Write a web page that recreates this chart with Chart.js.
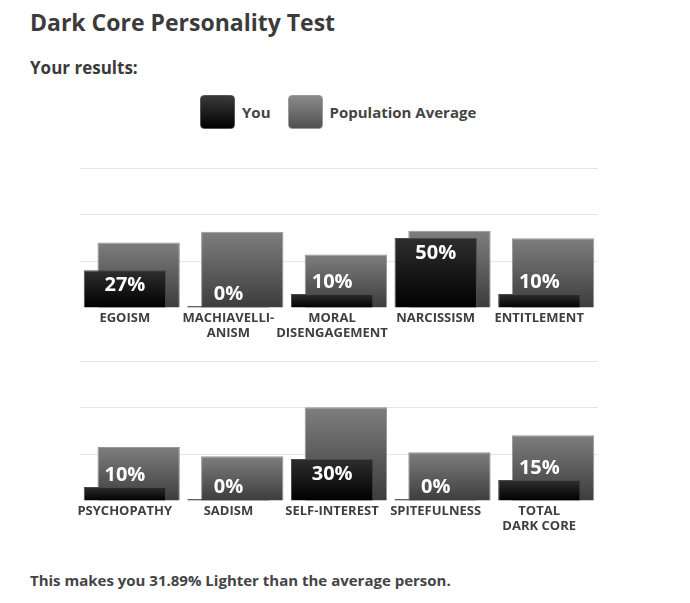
<!doctype html>
<html>

<head>
  <title>Dark Core Personality Test</title>
  <script src="https://cdn.jsdelivr.net/npm/chart.js@4.4.1/dist/chart.umd.min.js"></script>
</head>
<style>
  body {
    margin: 0;
    width: 690px;
    height: 603px;
    position: relative;
    overflow: hidden;
    background: #fff;
    font-family: "Open Sans", sans-serif;
    font-weight: 700;
    color: #3b3b3b;
  }

  .txt {
    position: absolute;
    left: 30px;
    margin: 0;
    line-height: 1;
    white-space: nowrap;
  }

  .legend {
    position: absolute;
    left: 200px;
    top: 95px;
    height: 34px;
    display: flex;
    align-items: center;
    font-size: 15px;
    line-height: 1;
    color: #444;
  }

  .box {
    width: 35px;
    height: 34px;
    border-radius: 4px;
    box-sizing: border-box;
  }

  .chartBox {
    position: absolute;
    left: 0;
  }
</style>

<body>
  <div class="txt" style="top:11px;font-size:23px">Dark Core Personality Test</div>
  <div class="txt" style="top:59px;font-size:17px">Your results:</div>
  <div class="legend">
    <div class="box" style="background:linear-gradient(#3a3a3a,#000);border:1px solid #555"></div>
    <span style="margin:0 17px 0 7px">You</span>
    <div class="box" style="background:linear-gradient(#8a8a8a,#505050);border:1px solid #9a9a9a"></div>
    <span style="margin-left:7px">Population Average</span>
  </div>
  <div class="chartBox" style="top:150px"><canvas id="chartTop" width="690" height="200"></canvas></div>
  <div class="chartBox" style="top:350px"><canvas id="chartBottom" width="690" height="190"></canvas></div>
  <div class="txt" style="top:573px;font-size:15px;color:#444">This makes you 31.89% Lighter than the average person.</div>

  <script>
    // values (percent)
    var categoriesTop = ['EGOISM', ['MACHIAVELLI-', 'ANISM'], ['MORAL', 'DISENGAGEMENT'], 'NARCISSISM', 'ENTITLEMENT'];
    var youTop = [27, 0, 10, 50, 10];
    var averageTop = [46.7, 54.5, 38.3, 55.2, 49.8];

    var categoriesBottom = ['PSYCHOPATHY', 'SADISM', 'SELF-INTEREST', 'SPITEFULNESS', ['TOTAL', 'DARK CORE']];
    var youBottom = [10, 0, 30, 0, 15];
    var averageBottom = [38.6, 31.9, 67, 34.8, 47];

    var gridValues = [0, 100 / 3, 200 / 3, 100];

    function barFill(topColor, bottomColor) {
      return function (c) {
        var chart = c.chart;
        if (!chart.chartArea || c.type !== 'data') return bottomColor;
        var y = chart.scales.y;
        var y0 = y.getPixelForValue(c.raw);
        var y1 = y.getPixelForValue(0);
        var g = chart.ctx.createLinearGradient(0, y0, 0, Math.max(y1, y0 + 2));
        g.addColorStop(0, topColor);
        g.addColorStop(1, bottomColor);
        return g;
      };
    }

    // white percentage on top of the "You" bars
    var valueLabels = {
      id: 'valueLabels',
      afterDatasetsDraw: function (chart) {
        var ctx = chart.ctx;
        var meta = chart.getDatasetMeta(0);
        var values = chart.data.datasets[0].data;
        ctx.save();
        ctx.font = 'bold 20px "Open Sans"';
        ctx.fillStyle = '#fff';
        ctx.textAlign = 'center';
        ctx.textBaseline = 'middle';
        meta.data.forEach(function (bar, i) {
          var h = bar.base - bar.y;
          var ty = h > 30 ? bar.y + 15 : bar.base - h - 12;
          ctx.fillText(values[i] + '%', bar.x, ty);
        });
        ctx.restore();
      }
    };

    function renderChart(id, labels, you, average, padTop, axisHeight) {
      return new Chart(document.getElementById(id), {
        type: 'bar',
        data: {
          labels: labels,
          datasets: [{
            label: 'You',
            data: you,
            backgroundColor: barFill('#2e2e2e', '#000'),
            borderColor: '#4a4a4a',
            borderWidth: 1,
            minBarLength: 2
          }, {
            label: 'Population Average',
            data: average,
            backgroundColor: barFill('#7e7e7e', '#3c3c3c'),
            borderColor: '#969696',
            borderWidth: 1
          }]
        },
        options: {
          responsive: false,
          animation: false,
          events: [],
          layout: { padding: { left: 80, right: 92, top: padTop, bottom: 0 } },
          datasets: { bar: { categoryPercentage: 0.265, barPercentage: 6.0 } },
          scales: {
            x: {
              grid: { display: false, drawTicks: false },
              border: { display: false },
              ticks: {
                color: '#3f3f3f',
                autoSkip: false,
                maxRotation: 0,
                padding: 2,
                labelOffset: -7,
                font: { family: 'Open Sans', weight: 'bold', size: 13, lineHeight: 1.2 }
              },
              afterFit: function (s) { s.height = axisHeight; }
            },
            y: {
              min: 0,
              max: 100,
              afterBuildTicks: function (s) {
                s.ticks = gridValues.map(function (v) { return { value: v }; });
              },
              ticks: { display: false },
              grid: {
                drawTicks: false,
                color: function (c) { return c.tick && c.tick.value === 0 ? 'rgba(0,0,0,0)' : '#e6e6e6'; }
              },
              border: { display: false }
            }
          },
          plugins: { legend: { display: false }, tooltip: { enabled: false } }
        },
        plugins: [valueLabels]
      });
    }

    renderChart('chartTop', categoriesTop, youTop, averageTop, 18, 42);
    renderChart('chartBottom', categoriesBottom, youBottom, averageBottom, 11, 39);
  </script>
</body>

</html>
